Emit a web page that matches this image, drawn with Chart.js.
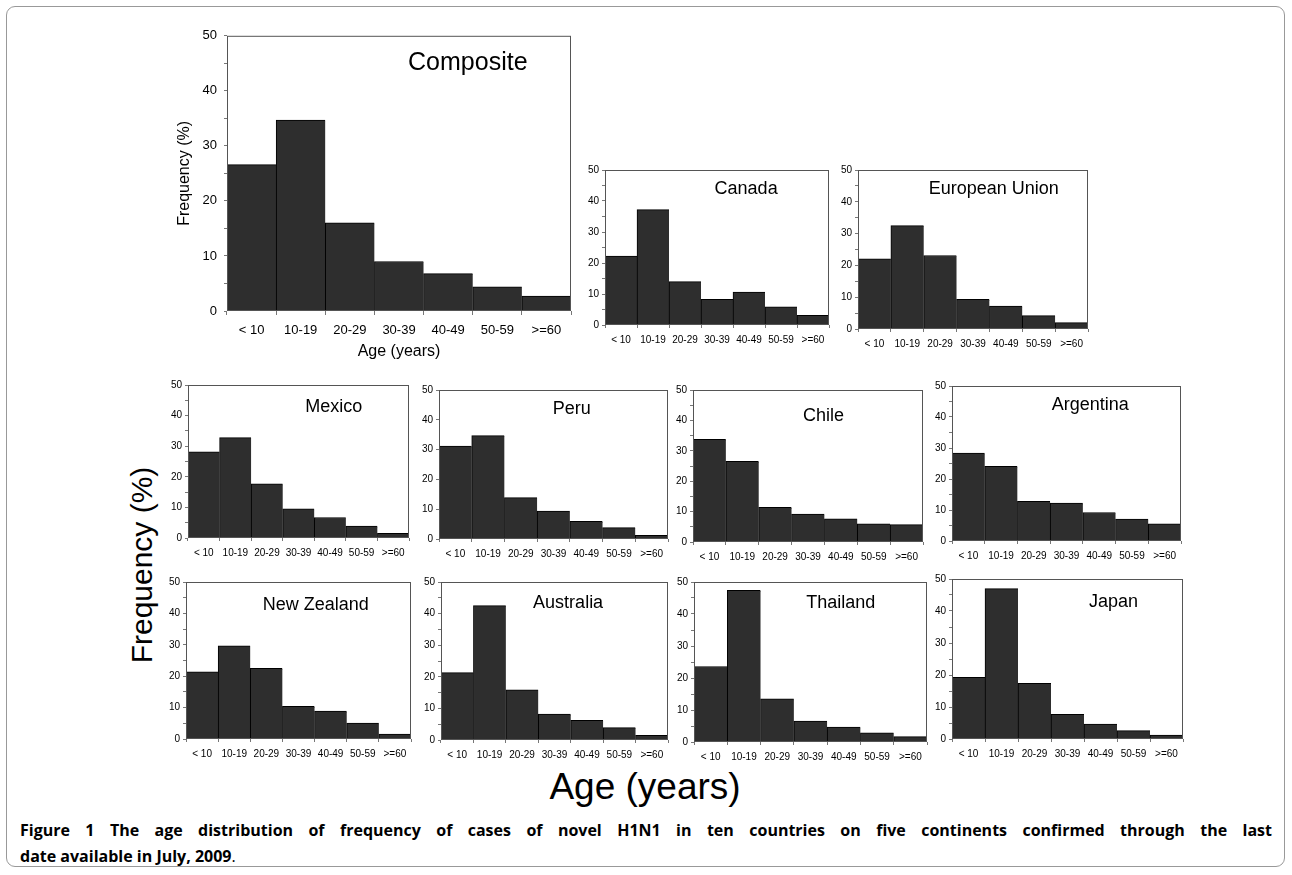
<!DOCTYPE html>
<html>
<head>
<meta charset="utf-8">
<script src="https://cdn.jsdelivr.net/npm/chart.js@4.4.1/dist/chart.umd.min.js"></script>
<style>
  body { margin: 0; background: #fff; }
  #page { position: relative; width: 1292px; height: 875px; overflow: hidden; font-family: "Liberation Sans", Arial, sans-serif; }
  #frame { position: absolute; left: 6px; top: 6px; width: 1279px; height: 861px; border: 1px solid #999; border-radius: 9px; box-sizing: border-box; }
  canvas { position: absolute; }
  .big { position: absolute; color: #000; white-space: nowrap; }
  #freq { left: 142px; top: 565px; font-size: 30px; transform: translate(-50%, -50%) rotate(-90deg); }
  #age { left: 645px; top: 787px; font-size: 37px; transform: translate(-50%, -50%); }
  #caption { position: absolute; left: 20px; top: 817px; width: 1252px; font-family: "Open Sans", "Noto Sans", sans-serif; font-size: 16px; line-height: 26px; color: #000; font-weight: bold; }
  #caption .l1 { text-align: justify; text-align-last: justify; }
  #caption .dot { font-weight: normal; }
</style>
</head>
<body>
<div id="page">
  <div id="frame"></div>
  <div class="big" id="freq">Frequency (%)</div>
  <div class="big" id="age">Age (years)</div>
  <div id="caption">
    <div class="l1">Figure 1 The age distribution of frequency of cases of novel H1N1 in ten countries on five continents confirmed through the last</div>
    <div>date available in July, 2009<span class="dot">.</span></div>
  </div>
</div>
<script>
// age groups (x categories)
const ageGroups = ['< 10', '10-19', '20-29', '30-39', '40-49', '50-59', '>=60'];

// frequency (%) per age group
const composite     = [26.6, 34.7, 16.0, 9.0, 6.8, 4.4, 2.7];
const canada        = [22.2, 37.2, 14.0, 8.3, 10.6, 5.9, 3.1];
const europeanUnion = [22.1, 32.5, 23.1, 9.3, 7.2, 4.2, 2.0];
const mexico        = [28.2, 32.8, 17.7, 9.5, 6.7, 3.9, 1.5];
const peru          = [31.2, 34.7, 13.9, 9.4, 5.9, 3.8, 1.2];
const chile         = [33.8, 26.5, 11.4, 9.2, 7.6, 6.0, 5.7];
const argentina     = [28.4, 24.1, 12.8, 12.2, 9.2, 7.1, 5.5];
const newZealand    = [21.4, 29.7, 22.5, 10.4, 8.9, 5.1, 1.6];
const australia     = [21.3, 42.5, 15.9, 8.2, 6.2, 3.9, 1.5];
const thailand      = [23.6, 47.4, 13.5, 6.5, 4.7, 2.9, 1.7];
const japan         = [19.3, 47.0, 17.4, 7.7, 4.7, 2.6, 1.2];

// y axis: 0..50, labels every 10, minor marks every 5
const yMax = 50;
const yStep = 5;
const yLabelEvery = 10;

// panel layout: plot area left/top/width/height + title position inside plot (fractions)
const panels = [
    { name: 'Composite',      data: composite,     x: 227, y: 31,  w: 344, h: 280, fx: 0.70, fy: 0.10, big: true },
    { name: 'Canada',         data: canada,        x: 605, y: 169, w: 224, h: 156, fx: 0.63, fy: 0.12 },
    { name: 'European Union', data: europeanUnion, x: 858, y: 169, w: 230, h: 160, fx: 0.59, fy: 0.12 },
    { name: 'Mexico',         data: mexico,        x: 188, y: 384, w: 221, h: 154, fx: 0.66, fy: 0.145 },
    { name: 'Peru',           data: peru,          x: 439, y: 389, w: 229, h: 150, fx: 0.58, fy: 0.127 },
    { name: 'Chile',          data: chile,         x: 693, y: 389, w: 230, h: 153, fx: 0.567, fy: 0.168 },
    { name: 'Argentina',      data: argentina,     x: 952, y: 385, w: 229, h: 156, fx: 0.604, fy: 0.124 },
    { name: 'New Zealand',    data: newZealand,    x: 186, y: 581, w: 225, h: 158, fx: 0.577, fy: 0.149 },
    { name: 'Australia',      data: australia,     x: 441, y: 581, w: 227, h: 159, fx: 0.56, fy: 0.132 },
    { name: 'Thailand',       data: thailand,      x: 694, y: 581, w: 233, h: 161, fx: 0.63, fy: 0.134 },
    { name: 'Japan',          data: japan,         x: 952, y: 578, w: 231, h: 161, fx: 0.699, fy: 0.141 }
];

// box round the plot area + panel name inside it
const panelPlugin = {
    id: 'panel',
    afterDatasetsDraw(chart, args, opts) {
        const ctx = chart.ctx;
        const a = chart.chartArea;
        ctx.save();
        ctx.strokeStyle = '#555';
        ctx.lineWidth = 1;
        ctx.strokeRect(a.left + 0.5, a.top + 0.5, a.right - a.left - 1, a.bottom - a.top - 1);
        ctx.fillStyle = '#000';
        ctx.font = opts.size + 'px "Liberation Sans", Arial, sans-serif';
        ctx.textAlign = 'center';
        ctx.textBaseline = 'middle';
        ctx.fillText(opts.text, a.left + (a.right - a.left) * opts.fx, a.top + (a.bottom - a.top) * opts.fy);
        ctx.restore();
    }
};

function makePanel(p) {
    const yw = p.big ? 57 : 24;   // y axis width
    const xh = p.big ? 50 : 24;   // x axis height
    const tp = p.big ? 10 : 8;
    const rp = 3;

    const canvas = document.createElement('canvas');
    canvas.width = p.w + yw + rp;
    canvas.height = p.h + tp + xh;
    canvas.style.left = (p.x - yw) + 'px';
    canvas.style.top = (p.y - tp) + 'px';
    document.getElementById('page').appendChild(canvas);

    const tickFont = { family: '"Liberation Sans", Arial, sans-serif', size: p.big ? 13 : 10 };
    const titleFont = { family: '"Liberation Sans", Arial, sans-serif', size: 16 };

    new Chart(canvas.getContext('2d'), {
        type: 'bar',
        data: {
            labels: ageGroups,
            datasets: [{
                data: p.data,
                backgroundColor: '#2e2e2e',
                borderColor: '#000',
                borderWidth: { top: 1, left: 1, right: 0, bottom: 0 },
                borderSkipped: false,
                barPercentage: 1,
                categoryPercentage: 1
            }]
        },
        options: {
            responsive: false,
            animation: false,
            events: [],
            layout: { padding: { top: tp, right: rp, left: 0, bottom: 0 } },
            plugins: {
                legend: { display: false },
                tooltip: { enabled: false },
                panel: { text: p.name, size: p.big ? 25 : 18, fx: p.fx, fy: p.fy }
            },
            scales: {
                x: {
                    grid: { display: true, drawOnChartArea: false, drawTicks: true, tickLength: p.big ? 4 : 3, color: '#777', offset: true },
                    border: { display: false },
                    ticks: { color: '#000', font: tickFont, padding: p.big ? 8 : 6, maxRotation: 0, autoSkip: false },
                    title: { display: !!p.big, text: 'Age (years)', color: '#000', font: titleFont, padding: { top: 1, bottom: 0 } },
                    afterFit: s => { s.height = xh; }
                },
                y: {
                    min: 0,
                    max: yMax,
                    grid: { display: true, drawOnChartArea: false, drawTicks: true, tickLength: 3, color: '#777' },
                    border: { display: false },
                    ticks: {
                        stepSize: yStep,
                        color: '#000',
                        font: tickFont,
                        padding: p.big ? 7 : 3,
                        callback: v => (v % yLabelEvery === 0 ? v : '')
                    },
                    title: { display: !!p.big, text: 'Frequency (%)', color: '#000', font: titleFont, padding: { top: 5, bottom: 0 } },
                    afterFit: s => { s.width = yw; }
                }
            }
        },
        plugins: [panelPlugin]
    });
}

panels.forEach(makePanel);
</script>
</body>
</html>
